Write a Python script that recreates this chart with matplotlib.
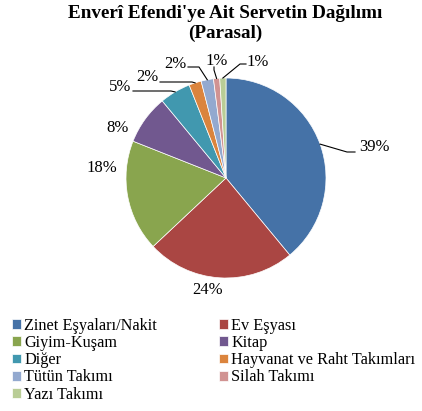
import matplotlib.pyplot as plt
import numpy as np

plt.rcParams['font.family'] = ['Liberation Serif', 'DejaVu Serif']

categories = ['Zinet Eşyaları/Nakit', 'Ev Eşyası', 'Giyim-Kuşam', 'Kitap', 'Diğer',
              'Hayvanat ve Raht Takımları', 'Tütün Takımı', 'Silah Takımı', 'Yazı Takımı']
shares = [39, 24, 18, 8, 5, 2, 2, 1, 1]
colors = ['#4572A7', '#AA4643', '#89A54E', '#71588F', '#4198AF',
          '#DB843D', '#93A9CF', '#D19392', '#B9CD96']

W, H = 422, 411
# label centres in pixels from the top-left corner
label_pos = [(374, 147), (208, 290), (102, 168), (118, 128), (120, 87),
             (147, 77), (175, 64), (217, 61), (258, 62)]
# leader lines: start and knee in pixels (None = no line)
leaders = [[(355, 152), (347, 152)], None, None, None,
           [(133, 91), (171, 91)],
           [(160, 82), (192, 82)],
           [(188, 67), (199, 67)],
           [(214, 67), (214, 70)],
           [(246, 64), (240, 64)]]

fig = plt.figure(figsize=(W / 100, H / 100), dpi=100)
ax = fig.add_axes([0, 0, 1, 1])
cx, cy, r = 226, H - 178, 100
wedges, _ = ax.pie(shares, colors=colors, startangle=90, counterclock=False,
                   center=(cx, cy), radius=r, frame=True,
                   wedgeprops=dict(linewidth=0.5, edgecolor='white'))
ax.set_xlim(0, W)
ax.set_ylim(0, H)
ax.axis('off')

for w, v, (lx, ly), ld in zip(wedges, shares, label_pos, leaders):
    ax.text(lx, H - ly, '%d%%' % v, ha='center', va='center', fontsize=12)
    if ld is not None:
        mid = np.radians((w.theta1 + w.theta2) / 2)
        ex, ey = cx + r * np.cos(mid), cy + r * np.sin(mid)
        xs = [p[0] for p in ld] + [ex]
        ys = [H - p[1] for p in ld] + [ey]
        ax.plot(xs, ys, color='black', lw=0.8)

fig.text(225.5 / W, 1 - 23.5 / H, "Enverî Efendi'ye Ait Servetin Dağılımı\n(Parasal)",
         ha='center', va='center', fontsize=13.8, fontweight='bold', linespacing=1.2)

order = [0, 2, 4, 6, 8, 1, 3, 5, 7]
fig.legend([wedges[i] for i in order], [categories[i] for i in order],
           loc='upper left', bbox_to_anchor=(12 / W, 1 - 318 / H), ncol=2,
           frameon=False, fontsize=11.7, handlelength=0.55, handleheight=0.55,
           handletextpad=0.2, labelspacing=0.07, columnspacing=3.8,
           borderpad=0, borderaxespad=0)

fig.savefig('out.png', dpi=100)
